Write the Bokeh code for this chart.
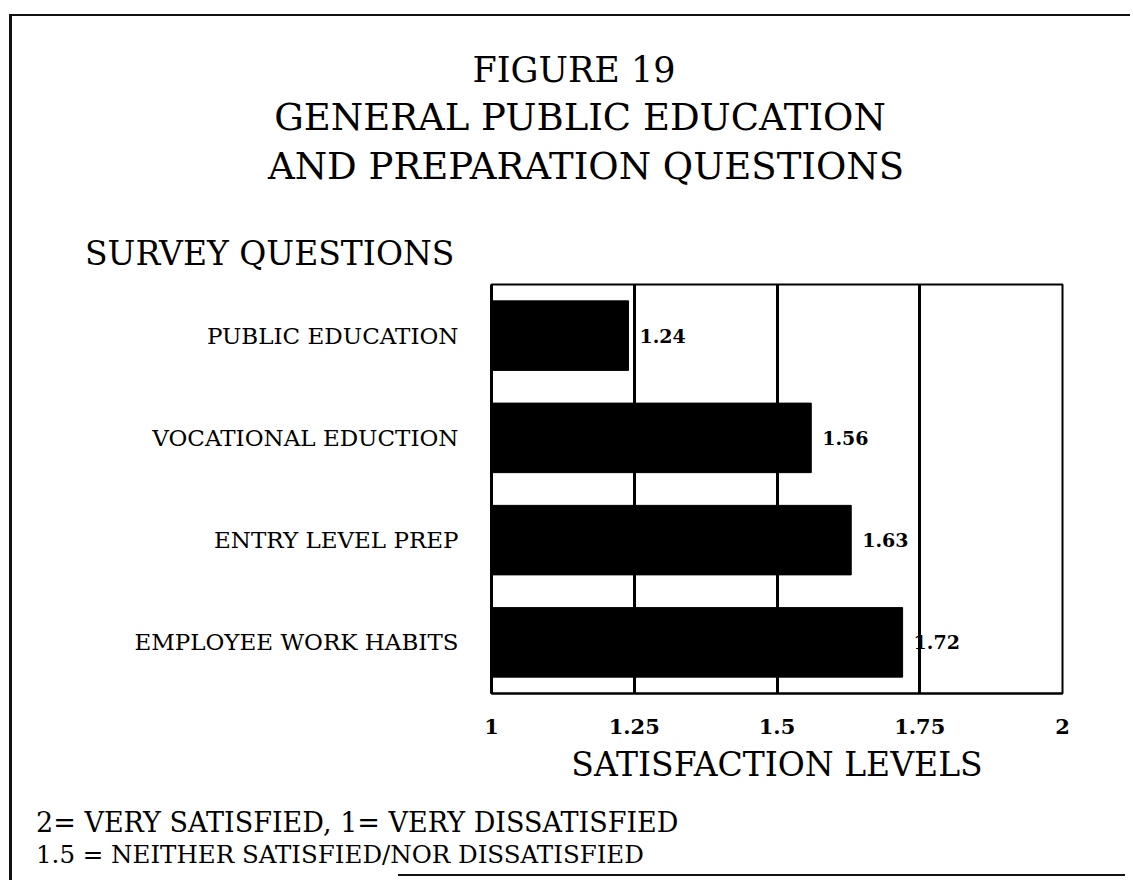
from bokeh.plotting import figure
from bokeh.layouts import column
from bokeh.models import FixedTicker, ColumnDataSource, Range1d, FactorRange, Div
from bokeh.embed import file_html
from bokeh.resources import INLINE
from bokeh.core.properties import value

# ---- data ----
questions = ["PUBLIC EDUCATION", "VOCATIONAL EDUCTION", "ENTRY LEVEL PREP", "EMPLOYEE WORK HABITS"]
scores = [1.24, 1.56, 1.63, 1.72]
score_labels = ["1.24", "1.56", "1.63", "1.72"]
x_ticks = [1.0, 1.25, 1.5, 1.75, 2.0]
x_tick_labels = ["1", "1.25", "1.5", "1.75", "2"]
grid_ticks = [1.25, 1.5, 1.75]
title_lines = ["FIGURE 19", "GENERAL PUBLIC EDUCATION", "AND PREPARATION QUESTIONS"]
y_title = "SURVEY QUESTIONS"
x_title = "SATISFACTION LEVELS"
notes = ["2= VERY SATISFIED, 1= VERY DISSATISFIED", "1.5 = NEITHER SATISFIED/NOR DISSATISFIED"]

FONT = "DejaVu Serif"
W = 1118          # width of every panel
OX, OY = 12, 16   # page position of the content origin (after margin + border)
PAD = 5           # inner offset a Div adds around its content
HEAD_H = 262      # rendered height of the header block
MAIN_TOP, MAIN_BOTTOM = 6, 97
FRAME_H = 409
FOOT_H = 90


def span(txt, px, py_cap, size, org, align="center"):
    """absolutely positioned text; (px, py_cap) page coords, py_cap = capitals' centre"""
    ox, oy = org
    t = py_cap - 0.4815 * size - oy
    if align == "center":
        left, extra = px - ox - 450, "width:900px;text-align:center;"
    else:
        left, extra = px - ox, ""
    return (f'<span style="position:absolute;left:{left:.1f}px;top:{t:.1f}px;{extra}'
            f'font-family:\'{FONT}\';font-size:{size}px;line-height:1;'
            f'white-space:nowrap;color:#000;">{txt}</span>')


# ---- header (titles) ----
h_org = (OX + PAD, OY + PAD)
head_html = (f'<div style="position:relative;width:{W - 2 * PAD}px;height:{HEAD_H - 2 * PAD}px;">'
             + span(title_lines[0], 574, 70, 35, h_org)
             + span(title_lines[1], 580, 117, 37, h_org)
             + span(title_lines[2], 586, 166, 37, h_org)
             + span(y_title, 85, 253, 33, h_org, align="left")
             + '</div>')
head = Div(text=head_html, width=W - 2 * PAD, height=HEAD_H - 2 * PAD)

# ---- main chart ----
src = ColumnDataSource(dict(q=questions, s=scores, lbl=score_labels))
p = figure(width=W, height=MAIN_TOP + FRAME_H + MAIN_BOTTOM,
           y_range=FactorRange(factors=questions[::-1], range_padding=0),
           x_range=Range1d(1, 2),
           output_backend="svg", toolbar_location=None,
           min_border_left=491 - OX, min_border_right=W - (491 - OX) - 571,
           min_border_top=MAIN_TOP, min_border_bottom=MAIN_BOTTOM)
p.outline_line_color = "black"
p.outline_line_width = 2
p.background_fill_color = "white"
p.border_fill_color = "white"

p.ygrid.grid_line_color = None
p.xgrid.ticker = FixedTicker(ticks=grid_ticks)
p.xgrid.grid_line_color = "black"
p.xgrid.grid_line_width = 3

p.hbar(y="q", left=1, right="s", height=0.68, source=src,
       fill_color="black", line_color="black")
p.text(x="s", y="q", text="lbl", source=src, x_offset=11,
       text_baseline="middle", text_align="left",
       text_font=value(FONT), text_font_style="bold",
       text_font_size="19px", text_color="black")

ya = p.yaxis[0]
ya.axis_line_color = "black"
ya.axis_line_width = 3
ya.major_tick_line_color = None
ya.minor_tick_line_color = None
ya.major_tick_out = 0
ya.major_tick_in = 0
ya.major_label_standoff = 33
ya.major_label_text_font = FONT
ya.major_label_text_font_size = "23px"
ya.major_label_text_color = "black"

xa = p.xaxis[0]
xa.ticker = FixedTicker(ticks=x_ticks)
xa.major_label_overrides = {t: l for t, l in zip(x_ticks, x_tick_labels)}
xa.axis_line_color = "black"
xa.axis_line_width = 2
xa.major_tick_line_color = None
xa.minor_tick_line_color = None
xa.major_tick_out = 0
xa.major_tick_in = 0
xa.major_label_standoff = 25
xa.major_label_text_font = FONT
xa.major_label_text_font_style = "bold"
xa.major_label_text_font_size = "21px"
xa.major_label_text_color = "black"
xa.axis_label = x_title
xa.axis_label_text_font = FONT
xa.axis_label_text_font_style = "normal"
xa.axis_label_text_font_size = "33px"
xa.axis_label_text_color = "black"
xa.axis_label_standoff = 8

# ---- footer (notes + bottom rule) ----
foot_top = OY + HEAD_H + MAIN_TOP + FRAME_H + MAIN_BOTTOM
f_org = (OX + PAD, foot_top + PAD)
rule_top = 874 - f_org[1]
foot_html = (f'<div style="position:relative;width:{W - 2 * PAD}px;height:{FOOT_H - 2 * PAD}px;">'
             + span(notes[0], 36, 822, 27, f_org, align="left")
             + span(notes[1], 36, 855, 24.5, f_org, align="left")
             + f'<div style="position:absolute;left:{398 - f_org[0]}px;top:{rule_top}px;'
               f'width:{W - 2 * PAD - (398 - f_org[0])}px;height:0;border-top:2px solid #111;"></div>'
             + '</div>')
foot = Div(text=foot_html, width=W - 2 * PAD, height=FOOT_H - 2 * PAD)

layout = column(head, p, foot, spacing=0,
                styles={"margin-left": "9px", "margin-top": "14px",
                        "border-left": "3px solid #111", "border-top": "2px solid #111"})

open("out.html", "w").write(file_html(layout, INLINE))
